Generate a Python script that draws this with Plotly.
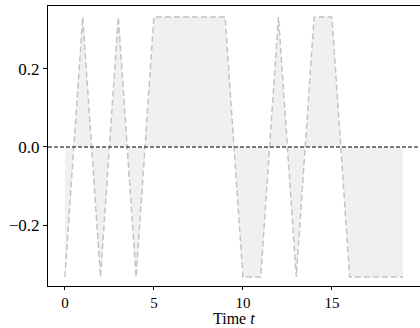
import plotly.graph_objects as go

t = list(range(20))
values = [-0.3333, 0.3333, -0.3333, 0.3333, -0.3333, 0.3333, 0.3333, 0.3333, 0.3333, 0.3333,
          -0.3333, -0.3333, 0.3333, -0.3333, 0.3333, 0.3333, -0.3333, -0.3333, -0.3333, -0.3333]
xticks = [0, 5, 10, 15]
yticks = [-0.2, 0.0, 0.2]
ytick_labels = ["\u22120.2", "0.0", "0.2"]
x_title = "Time <i>t</i>"

font_family = "Liberation Serif"

fig = go.Figure()
fig.add_trace(go.Scatter(
    x=t, y=values, mode="lines", fill="tozeroy",
    fillcolor="rgba(240,240,240,1)",
    line=dict(color="#c4c4c4", width=1.5, dash="6px,3px"),
    showlegend=False, hoverinfo="skip",
))
fig.add_shape(type="line", xref="paper", yref="y", x0=0, x1=1, y0=0, y1=0,
              line=dict(color="black", width=1.2, dash="4px,2px"))
fig.add_annotation(text=x_title, xref="paper", yref="paper", x=0.5, y=0,
                   xanchor="center", yanchor="bottom", yshift=-42, showarrow=False,
                   borderpad=0, font=dict(size=16))

fig.update_layout(
    width=420, height=328,
    margin=dict(l=48, r=0, t=6, b=42),
    plot_bgcolor="white", paper_bgcolor="white",
    font=dict(family=font_family, size=17, color="black"),
    xaxis=dict(range=[-0.95, 19.95], tickvals=xticks, ticks="outside", ticklen=3,
               tickwidth=1, tickcolor="black", showgrid=False, zeroline=False,
               showline=True, linecolor="black", linewidth=1.2, mirror=True,
               automargin=False, tickfont=dict(size=15)),
    yaxis=dict(range=[-0.3564, 0.3615], tickvals=yticks, ticktext=ytick_labels,
               ticks="outside", ticklen=4, tickwidth=1, tickcolor="black",
               showgrid=False, zeroline=False, showline=True, linecolor="black",
               linewidth=1.2, automargin=False, tickfont=dict(size=17)),
)

fig.write_html("out.html", config={"displayModeBar": False},
               post_script="document.body.style.margin='0';")
